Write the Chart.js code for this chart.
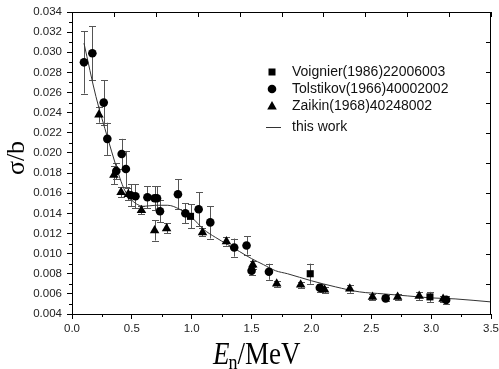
<!DOCTYPE html>
<html>
<head>
<meta charset="utf-8">
<script src="https://cdn.jsdelivr.net/npm/chart.js@4.4.1/dist/chart.umd.min.js"></script>
<style>
  html, body { margin: 0; padding: 0; background: #fff; }
  #wrap { width: 499px; height: 369px; }
</style>
</head>
<body>
<div id="wrap"><canvas id="xsChart" width="499" height="369"></canvas></div>
<script>
const voignierE = [0.99, 1.99, 2.99];
const voignierS = [0.0137, 0.0080, 0.0057];
const voignierErr = [0.0012, 0.0010, 0.0005];

const tolstikovE = [0.10, 0.17, 0.265, 0.295, 0.37, 0.415, 0.45, 0.49, 0.53, 0.63, 0.69, 0.71, 0.735,
  0.885, 0.947, 1.058, 1.155, 1.355, 1.458, 1.50, 1.645, 2.07, 2.62, 3.125];
const tolstikovS = [0.0290, 0.0299, 0.0250, 0.0214, 0.0182, 0.0199, 0.0184, 0.0158, 0.0157, 0.0156, 0.0155, 0.0155, 0.0142,
  0.0159, 0.0140, 0.0144, 0.0131, 0.0106, 0.0108, 0.0083, 0.0082, 0.0066, 0.00555, 0.0054];
const tolstikovErr = [0.0031, 0.0027, 0.0022, 0.0016, 0.0008, 0.0015, 0.0018, 0.0011, 0.0012, 0.0011, 0.0012, 0.0012, 0.0011,
  0.0015, 0.0010, 0.0017, 0.0016, 0.0009, 0.0009, 0.0004, 0.0008, 0.0004, 0.0003, 0.0004];

const zaikinE = [0.225, 0.35, 0.41, 0.47, 0.58, 0.69, 0.79, 1.09, 1.29, 1.51, 1.71, 1.91, 2.11, 2.32, 2.51, 2.72, 2.90, 3.10];
const zaikinS = [0.0238, 0.0178, 0.0161, 0.0159, 0.0143, 0.0123, 0.0125, 0.0121, 0.0112, 0.0089, 0.0070, 0.0069, 0.0064,
  0.0065, 0.0057, 0.0057, 0.0058, 0.0055];
const zaikinErr = [0.0008, 0.0009, 0.0005, 0.0006, 0.0004, 0.0010, 0.0005, 0.0004, 0.0004, 0.0004, 0.0003, 0.0003, 0.0003,
  0.0004, 0.0003, 0.0003, 0.0004, 0.0003];

// "this work" curve
const curveE = [0.10, 0.20, 0.30, 0.36, 0.40, 0.44, 0.50, 0.60, 0.70, 0.80, 0.90, 1.00, 1.10, 1.20, 1.30, 1.40, 1.50,
  1.60, 1.70, 1.80, 2.00, 2.20, 2.40, 2.60, 2.80, 3.00, 3.20, 3.50];
const curveS = [0.0309, 0.0256, 0.0214, 0.0190, 0.0175, 0.0163, 0.0153, 0.0147, 0.0148, 0.0148, 0.0144, 0.0136, 0.0124,
  0.0116, 0.0109, 0.0102, 0.0095, 0.0089, 0.0083, 0.0080, 0.0073, 0.0067, 0.0062, 0.0060, 0.0058, 0.0056, 0.0055, 0.0052];

const legendLabels = ['Voignier(1986)22006003', 'Tolstikov(1966)40002002', 'Zaikin(1968)40248002', 'this work'];

const toPoints = (xs, ys) => xs.map((x, i) => ({ x: x, y: ys[i] }));

const tickFont = { family: 'Liberation Sans, Arial, sans-serif', size: 11.5 };

const extrasPlugin = {
  id: 'extras',
  beforeDatasetsDraw(chart) {
    const ctx = chart.ctx;
    const xs = chart.scales.x, ys = chart.scales.y;
    ctx.save();
    ctx.strokeStyle = '#555';
    ctx.lineWidth = 1;
    chart.data.datasets.forEach(ds => {
      if (!ds.errors) return;
      ds.data.forEach((p, i) => {
        const e = ds.errors[i];
        const px = Math.round(xs.getPixelForValue(p.x)) + 0.5;
        const top = ys.getPixelForValue(p.y + e);
        const bot = ys.getPixelForValue(p.y - e);
        ctx.beginPath();
        ctx.moveTo(px, top); ctx.lineTo(px, bot);
        ctx.moveTo(px - 3.5, Math.round(top) + 0.5); ctx.lineTo(px + 3.5, Math.round(top) + 0.5);
        ctx.moveTo(px - 3.5, Math.round(bot) + 0.5); ctx.lineTo(px + 3.5, Math.round(bot) + 0.5);
        ctx.stroke();
      });
    });
    ctx.restore();
  },
  afterDraw(chart) {
    const ctx = chart.ctx;
    const a = chart.chartArea;
    const xs = chart.scales.x, ys = chart.scales.y;
    ctx.save();
    ctx.strokeStyle = '#000';
    ctx.lineWidth = 1;
    ctx.beginPath();
    // top and right frame
    ctx.moveTo(a.left, a.top + 0.5); ctx.lineTo(a.right, a.top + 0.5);
    ctx.moveTo(a.right - 0.5, a.top); ctx.lineTo(a.right - 0.5, a.bottom);
    // minor ticks left / bottom (outside)
    for (let k = 0; k < 15; k++) {
      const y = Math.round(ys.getPixelForValue(0.005 + 0.002 * k)) + 0.5;
      ctx.moveTo(a.left - 3, y); ctx.lineTo(a.left, y);
    }
    for (let k = 0; k < 7; k++) {
      const x = Math.round(xs.getPixelForValue(0.25 + 0.5 * k)) + 0.5;
      ctx.moveTo(x, a.bottom); ctx.lineTo(x, a.bottom + 3);
    }
    // mirror ticks top / right (inside)
    for (let k = 1; k <= 10; k++) {
      const x = Math.round(xs.getPixelForValue(0.35 * k)) + 0.5;
      ctx.moveTo(x, a.top); ctx.lineTo(x, a.top + 5);
    }
    for (let k = 1; k <= 10; k++) {
      const y = Math.round(ys.getPixelForValue(0.004 + 0.003 * k)) + 0.5;
      ctx.moveTo(a.right, y); ctx.lineTo(a.right - 5, y);
    }
    ctx.stroke();

    // legend
    const rows = [72, 89, 106, 127];
    const mx = 272;
    ctx.fillStyle = '#000';
    ctx.fillRect(mx - 3.5, rows[0] - 3.5, 7, 7);
    ctx.beginPath(); ctx.arc(mx, rows[1], 4.3, 0, Math.PI * 2); ctx.fill();
    ctx.beginPath();
    ctx.moveTo(mx, rows[2] - 5); ctx.lineTo(mx + 4.8, rows[2] + 3.5); ctx.lineTo(mx - 4.8, rows[2] + 3.5);
    ctx.closePath(); ctx.fill();
    ctx.strokeStyle = '#333';
    ctx.beginPath(); ctx.moveTo(mx - 6, rows[3] + 0.5); ctx.lineTo(mx + 9, rows[3] + 0.5); ctx.stroke();
    ctx.font = '14px "Liberation Sans", Arial, sans-serif';
    ctx.textBaseline = 'middle';
    ctx.fillStyle = '#111';
    legendLabels.forEach((t, i) => ctx.fillText(t, 292, rows[i]));

    // axis titles
    ctx.fillStyle = '#000';
    ctx.save();
    ctx.translate(17, 158);
    ctx.rotate(-Math.PI / 2);
    ctx.font = '26px "Liberation Serif", "Times New Roman", serif';
    ctx.textAlign = 'center';
    ctx.textBaseline = 'middle';
    ctx.fillText('σ/b', 0, 0);
    ctx.restore();

    ctx.save();
    ctx.translate(213, 364);
    ctx.scale(1, 1.2);
    ctx.textBaseline = 'alphabetic';
    ctx.textAlign = 'left';
    ctx.font = 'italic 27px "Liberation Serif", "Times New Roman", serif';
    ctx.fillText('E', 0, 0);
    let w = ctx.measureText('E').width;
    ctx.font = '18px "Liberation Serif", "Times New Roman", serif';
    ctx.fillText('n', w - 1, 4);
    w += ctx.measureText('n').width - 1;
    ctx.font = '27px "Liberation Serif", "Times New Roman", serif';
    ctx.fillText('/MeV', w, 0);
    ctx.restore();

    ctx.restore();
  }
};

new Chart(document.getElementById('xsChart'), {
  type: 'scatter',
  data: {
    datasets: [
      {
        label: legendLabels[0],
        data: toPoints(voignierE, voignierS),
        errors: voignierErr,
        pointStyle: 'rect',
        pointRadius: 5,
        backgroundColor: '#000',
        borderWidth: 0,
        order: 1
      },
      {
        label: legendLabels[1],
        data: toPoints(tolstikovE, tolstikovS),
        errors: tolstikovErr,
        pointStyle: 'circle',
        pointRadius: 4.3,
        backgroundColor: '#000',
        borderWidth: 0,
        order: 2
      },
      {
        label: legendLabels[2],
        data: toPoints(zaikinE, zaikinS),
        errors: zaikinErr,
        pointStyle: 'triangle',
        pointRadius: 5.5,
        backgroundColor: '#000',
        borderWidth: 0,
        order: 3
      },
      {
        label: legendLabels[3],
        data: toPoints(curveE, curveS),
        showLine: true,
        pointRadius: 0,
        borderColor: '#333',
        borderWidth: 1,
        cubicInterpolationMode: 'monotone',
        order: 4
      }
    ]
  },
  options: {
    responsive: false,
    animation: false,
    layout: { padding: { left: 0, top: 12, right: 8, bottom: 0 } },
    plugins: { legend: { display: false }, tooltip: { enabled: false } },
    scales: {
      x: {
        type: 'linear',
        min: 0, max: 3.5,
        ticks: { stepSize: 0.5, font: tickFont, color: '#222', padding: 3, callback: v => v.toFixed(1) },
        grid: { drawOnChartArea: false, tickLength: 5, color: '#000' },
        border: { color: '#000' },
        afterFit: s => { s.height = 55; s.paddingRight = 0; s.paddingLeft = 0; }
      },
      y: {
        min: 0.004, max: 0.034,
        ticks: { stepSize: 0.002, font: tickFont, color: '#222', padding: 5, callback: v => v.toFixed(3) },
        grid: { drawOnChartArea: false, tickLength: 5, color: '#000' },
        border: { color: '#000' },
        afterFit: s => { s.width = 72; s.paddingTop = 0; s.paddingBottom = 0; }
      }
    }
  },
  plugins: [extrasPlugin]
});
</script>
</body>
</html>
